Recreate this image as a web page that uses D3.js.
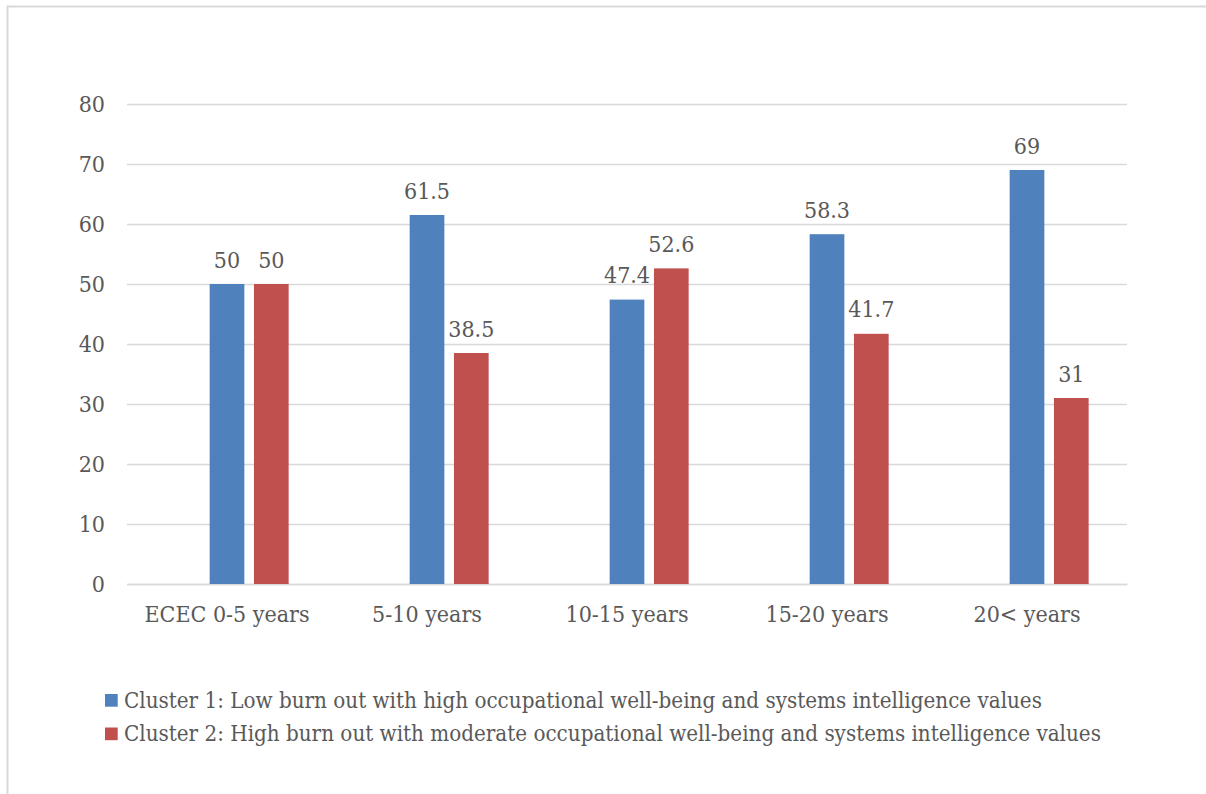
<!DOCTYPE html>
<html>
<head>
<meta charset="utf-8">
<script src="https://cdn.jsdelivr.net/npm/d3@7"></script>
<style>
  html, body { margin: 0; padding: 0; background: #fff; }
  svg { display: block; }
  text { font-family: "DejaVu Serif Condensed", "DejaVu Serif", serif; font-stretch: condensed; fill: #595959; }
</style>
</head>
<body>
<svg id="chart" width="1206" height="794"></svg>
<script>
// Share of each cluster by years of ECEC work experience (%)
const categories = ["ECEC 0-5 years", "5-10 years", "10-15 years", "15-20 years", "20< years"];
const cluster1 = [50, 61.5, 47.4, 58.3, 69];
const cluster2 = [50, 38.5, 52.6, 41.7, 31];
const seriesNames = [
  "Cluster 1: Low burn out with high occupational well-being and systems intelligence values",
  "Cluster 2: High burn out with moderate occupational well-being and systems intelligence values"
];
const seriesColors = ["#4F81BD", "#C0504D"];
const yTicks = [0, 10, 20, 30, 40, 50, 60, 70, 80];

const FONT = "'DejaVu Serif Condensed', 'DejaVu Serif', serif";
const svg = d3.select("#chart");
const W = 1206, H = 794;
const plot = { left: 127, right: 1127, top: 104, bottom: 584 };

// Outer frame of the chart area
svg.append("rect")
  .attr("x", 7.5).attr("y", 6.5)
  .attr("width", W + 20).attr("height", H + 20)
  .attr("fill", "#fff").attr("stroke", "#d9d9d9").attr("stroke-width", 2);

const x = d3.scaleBand().domain(categories).range([plot.left, plot.right]);
// Three slots per category; the first slot stays empty, the clusters use the other two
const slot = d3.scaleBand().domain([0, 1, 2]).range([0, x.bandwidth()])
  .paddingInner(0.217).paddingOuter(0.866);
const y = d3.scaleLinear().domain([0, 80]).range([plot.bottom, plot.top]);

// Gridlines and y labels
const yAxis = d3.axisLeft(y).tickValues(yTicks).tickSize(-(plot.right - plot.left)).tickPadding(22);
const gy = svg.append("g").attr("transform", `translate(${plot.left},0)`).call(yAxis);
gy.select(".domain").remove();
gy.selectAll(".tick line").attr("stroke", "#d9d9d9").attr("stroke-width", 1.3);
gy.selectAll(".tick text").attr("font-size", 23).attr("fill", "#595959")
  .style("font-family", FONT);

// Category axis
const xAxis = d3.axisBottom(x).tickSize(0).tickPadding(22);
const gx = svg.append("g").attr("transform", `translate(0,${plot.bottom})`).call(xAxis);
gx.select(".domain").attr("stroke", "#d9d9d9").attr("stroke-width", 1.5);
gx.selectAll(".tick text").attr("font-size", 23).attr("fill", "#595959")
  .style("font-family", FONT);

const series = [cluster1, cluster2];
series.forEach((vals, si) => {
  const g = svg.append("g");
  const rows = categories.map((c, i) => ({ c, v: vals[i] }));
  g.selectAll("rect").data(rows).join("rect")
    .attr("x", d => x(d.c) + slot(si + 1))
    .attr("width", slot.bandwidth())
    .attr("y", d => y(d.v))
    .attr("height", d => y(0) - y(d.v))
    .attr("fill", seriesColors[si]);
  g.selectAll("text").data(rows).join("text")
    .attr("x", d => x(d.c) + slot(si + 1) + slot.bandwidth() / 2)
    .attr("y", d => y(d.v) - 16.5)
    .attr("text-anchor", "middle")
    .attr("font-size", 23)
    .attr("fill", "#404040")
    .text(d => d.v);
});

// Legend
const legend = svg.append("g").attr("transform", "translate(105,694)");
seriesNames.forEach((name, i) => {
  const row = legend.append("g").attr("transform", `translate(0,${i * 33.5})`);
  row.append("rect").attr("width", 12.7).attr("height", 12.7).attr("fill", seriesColors[i]);
  row.append("text").attr("x", 19).attr("y", 13.8).attr("font-size", 22.2).text(name);
});
</script>
</body>
</html>
